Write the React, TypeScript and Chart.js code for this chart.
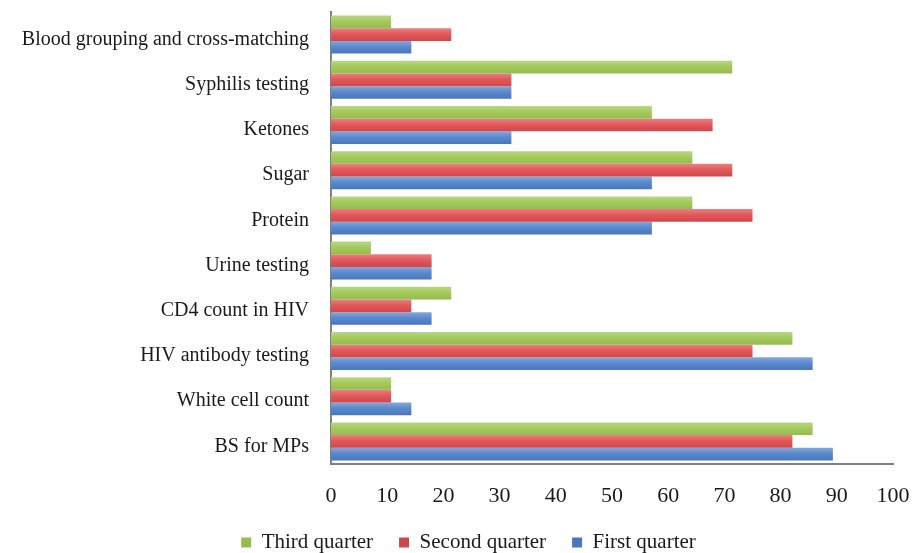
import React, { useEffect, useRef } from 'react';
import { Chart, registerables } from 'chart.js';

Chart.register(...registerables);

const categories = [
  'Blood grouping and cross-matching',
  'Syphilis testing',
  'Ketones',
  'Sugar',
  'Protein',
  'Urine testing',
  'CD4 count in HIV',
  'HIV antibody testing',
  'White cell count',
  'BS for MPs',
];

const thirdQuarter = [10.7, 71.4, 57.1, 64.3, 64.3, 7.1, 21.4, 82.1, 10.7, 85.7];
const secondQuarter = [21.4, 32.1, 67.9, 71.4, 75.0, 17.9, 14.3, 75.0, 10.7, 82.1];
const firstQuarter = [14.3, 32.1, 32.1, 57.1, 57.1, 17.9, 17.9, 85.7, 14.3, 89.3];

const xTicks = [0, 10, 20, 30, 40, 50, 60, 70, 80, 90, 100];

const FONT = '"Liberation Serif", "Times New Roman", serif';
const CAT_PCT = 0.84;

const zeroPadding = (scale: any) => {
  scale.paddingTop = 0;
  scale.paddingBottom = 0;
  scale.paddingLeft = 0;
  scale.paddingRight = 0;
};

// [light top, main, dark bottom]
const palettes = [
  ['#b8d784', '#a5ca5c', '#95bc4f'],
  ['#ea8082', '#e2585b', '#d04749'],
  ['#84a8dc', '#5a8ace', '#4976bd'],
];

const barFill = (dsIndex: number) => (ctx: any) => {
  const pal = palettes[dsIndex];
  if (!ctx || ctx.type !== 'data') return pal[1];
  const chart = ctx.chart;
  const y = chart.scales && chart.scales.y;
  if (!y || !y.height) return pal[1];
  const center = y.getPixelForValue(ctx.dataIndex);
  const band = y.height / categories.length;
  const groupH = band * CAT_PCT;
  const w = groupH / 3;
  const top = center - groupH / 2 + dsIndex * w;
  const bottom = top + w;
  const g = chart.ctx.createLinearGradient(0, top, 0, bottom);
  g.addColorStop(0, pal[0]);
  g.addColorStop(0.45, pal[1]);
  g.addColorStop(1, pal[2]);
  return g;
};

const legendShift = {
  id: 'legendShift',
  afterLayout(chart: any) {
    const l = chart.legend;
    if (l) {
      l.left += 22;
      l.right += 22;
    }
  },
};

export default function App() {
  const canvasRef = useRef<HTMLCanvasElement | null>(null);

  useEffect(() => {
    if (!canvasRef.current) return;
    const chart = new Chart(canvasRef.current, {
      type: 'bar',
      data: {
        labels: categories,
        datasets: [
          { label: 'Third quarter', data: thirdQuarter, backgroundColor: barFill(0), borderWidth: 0 },
          { label: 'Second quarter', data: secondQuarter, backgroundColor: barFill(1), borderWidth: 0 },
          { label: 'First quarter', data: firstQuarter, backgroundColor: barFill(2), borderWidth: 0 },
        ],
      },
      options: {
        indexAxis: 'y',
        animation: false,
        responsive: true,
        maintainAspectRatio: false,
        datasets: { bar: { categoryPercentage: CAT_PCT, barPercentage: 1 } },
        layout: { padding: { top: 12, right: 21, left: 0, bottom: 0 } },
        scales: {
          x: {
            min: 0,
            max: 100,
            afterBuildTicks: (scale: any) => {
              scale.ticks = xTicks.map((v) => ({ value: v }));
            },
            afterFit: (scale: any) => {
              scale.height = 42;
              zeroPadding(scale);
            },
            grid: { display: false },
            border: { display: true, color: '#808080', width: 2 },
            ticks: {
              padding: 11,
              color: '#1a1a1a',
              maxRotation: 0,
              font: { family: FONT, size: 22 },
            },
          },
          y: {
            afterFit: (scale: any) => {
              scale.width = 331;
              zeroPadding(scale);
            },
            grid: { display: false },
            border: { display: true, color: '#808080', width: 2 },
            ticks: {
              padding: 14,
              labelOffset: 5,
              color: '#1a1a1a',
              font: { family: FONT, size: 20 },
            },
          },
        },
        plugins: {
          legend: {
            position: 'bottom',
            labels: {
              boxWidth: 10,
              boxHeight: 10,
              padding: 26,
              color: '#1a1a1a',
              font: { family: FONT, size: 21 },
            },
          },
          tooltip: { enabled: false },
        },
      },
      plugins: [legendShift],
    });
    return () => chart.destroy();
  }, []);

  return (
    <div style={{ position: 'fixed', left: 0, top: 0, width: 914, height: 553, overflow: 'hidden', background: '#fff' }}>
      <div style={{ position: 'relative', width: 914, height: 563 }}>
        <canvas ref={canvasRef} />
      </div>
    </div>
  );
}
